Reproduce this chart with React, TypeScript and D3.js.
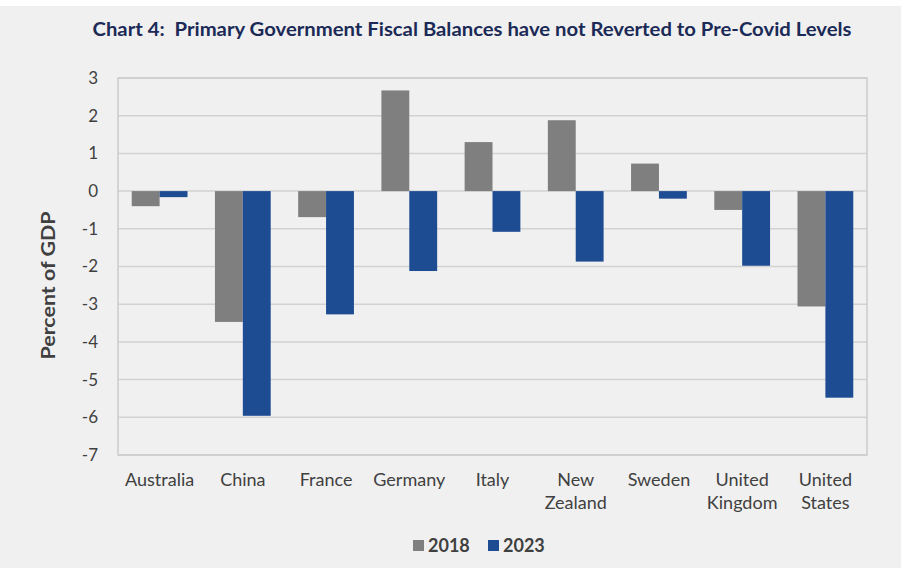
import React from "react";
import * as d3 from "d3";

const categories: string[][] = [
  ["Australia"], ["China"], ["France"], ["Germany"], ["Italy"],
  ["New", "Zealand"], ["Sweden"], ["United", "Kingdom"], ["United", "States"],
];
const series2018: number[] = [-0.4, -3.47, -0.69, 2.67, 1.3, 1.88, 0.73, -0.5, -3.06];
const series2023: number[] = [-0.16, -5.96, -3.27, -2.12, -1.08, -1.87, -0.2, -1.98, -5.48];
const yTicks: number[] = [3, 2, 1, 0, -1, -2, -3, -4, -5, -6, -7];
const seriesNames: string[] = ["2018", "2023"];
const seriesColors: string[] = ["#7f7f7f", "#1d4c93"];

const W = 901, H = 568;
const plot = { left: 118, right: 867, top: 78, bottom: 455 };
const FONT = "Lato, 'Open Sans', sans-serif";

export default function App() {
  const y = d3.scaleLinear().domain([-7, 3]).range([plot.bottom, plot.top]);
  const x0 = d3.scaleBand<number>().domain(d3.range(categories.length)).range([plot.left, plot.right]).paddingInner(0.33).paddingOuter(0.165);
  const x1 = d3.scaleBand<number>().domain([0, 1]).range([0, x0.bandwidth()]);
  const data = [series2018, series2023];
  return (
    <div style={{ position: "absolute", left: 0, top: 0 }}>
      <svg width={W} height={H} style={{ display: "block" }}>
        <rect x={0} y={0} width={W} height={H} fill="#ffffff" />
        <rect x={0} y={6} width={W} height={H - 6} fill="#f0f0f0" />
        <text x={472} y={36} textAnchor="middle" xmlSpace="preserve" style={{ whiteSpace: "pre" }} fontFamily={FONT} fontWeight={700} fontSize={19} fill="#1b2a57" textLength={759} lengthAdjust="spacingAndGlyphs">
          {"Chart 4:  Primary Government Fiscal Balances have not Reverted to Pre-Covid Levels"}
        </text>
        {yTicks.map((t) => (
          <g key={t}>
            <line x1={plot.left} x2={plot.right} y1={y(t)} y2={y(t)} stroke="#d2d2d2" strokeWidth={1.5} />
            <text x={98} y={y(t)} dy="0.35em" textAnchor="end" fontFamily={FONT} fontSize={17} fill="#404040">{t}</text>
          </g>
        ))}
        <rect x={plot.left} y={plot.top} width={plot.right - plot.left} height={plot.bottom - plot.top} fill="none" stroke="#cccccc" strokeWidth={1.5} />
        <text transform={`translate(55,${(plot.top + plot.bottom) / 2 + 19}) rotate(-90)`} textAnchor="middle" fontFamily={FONT} fontWeight={700} fontSize={19} fill="#404040" textLength={148} lengthAdjust="spacingAndGlyphs">Percent of GDP</text>
        {data.map((s, si) =>
          s.map((v, i) => (
            <rect key={`${si}-${i}`} x={(x0(i) as number) + (x1(si) as number)} width={x1.bandwidth()} y={y(Math.max(0, v))} height={Math.abs(y(v) - y(0))} fill={seriesColors[si]} />
          ))
        )}
        {categories.map((c, i) => (
          <text key={i} x={(x0(i) as number) + x0.bandwidth() / 2} y={486} textAnchor="middle" fontFamily={FONT} fontSize={18} fill="#404040">
            {c.map((line, li) => (
              <tspan key={li} x={(x0(i) as number) + x0.bandwidth() / 2} dy={li === 0 ? 0 : 23}>{line}</tspan>
            ))}
          </text>
        ))}
        {seriesNames.map((n, si) => (
          <g key={n} transform={`translate(${413 + si * 75},0)`}>
            <rect x={0} y={540} width={11} height={11} fill={seriesColors[si]} />
            <text x={15} y={552} fontFamily={FONT} fontWeight={700} fontSize={18} fill="#404040">{n}</text>
          </g>
        ))}
      </svg>
    </div>
  );
}
